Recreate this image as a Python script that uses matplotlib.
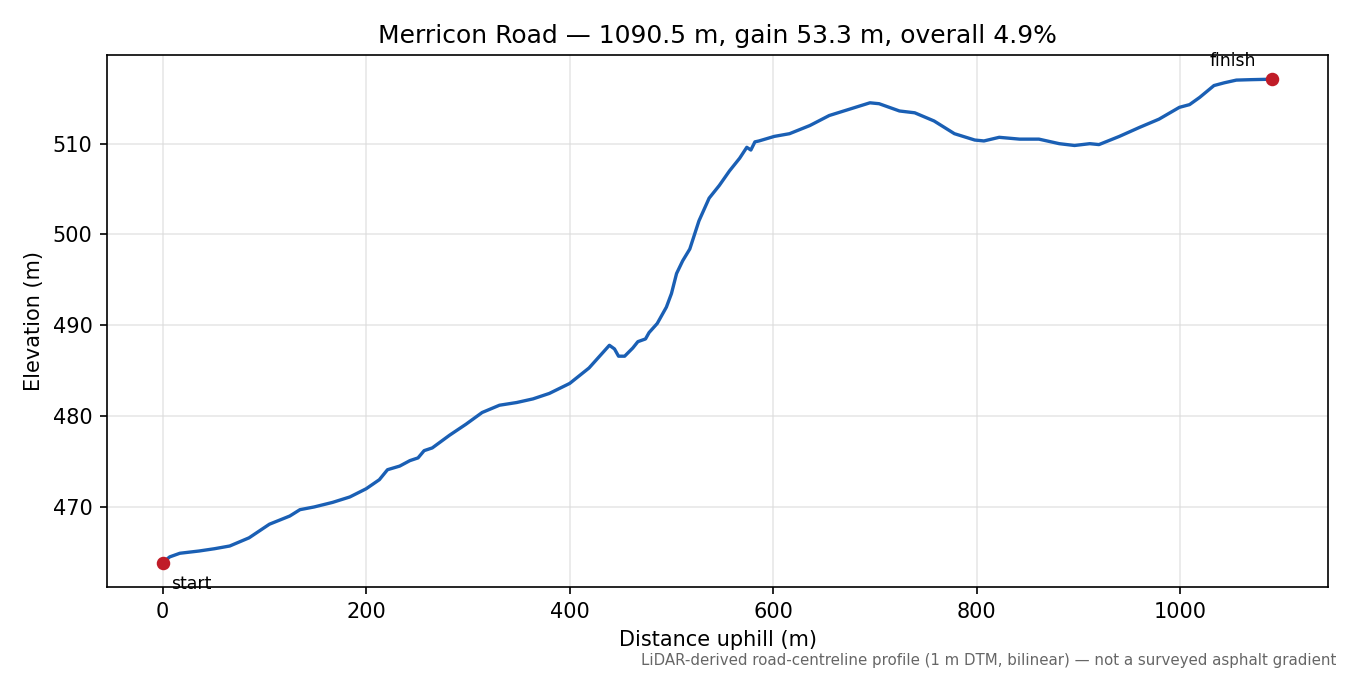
import matplotlib
matplotlib.use("Agg")
import matplotlib.pyplot as plt

# profile (distance uphill m, elevation m)
dist = [0, 7, 17, 36, 51, 66, 85, 105, 125, 135, 149, 167, 184, 200, 213, 221, 233, 243,
        251, 257, 265, 282, 298, 314, 331, 348, 364, 380, 400, 419, 439, 444, 448, 454,
        462, 467, 474.5, 478, 486, 495, 500, 505, 511, 518,
        527, 537, 547, 557, 567, 574, 578, 582, 586, 601, 616, 636, 655, 675, 695, 704,
        724, 739, 758, 778, 798, 807, 822, 842, 861, 881, 896, 911, 920, 940, 960, 979,
        999, 1009, 1019, 1033, 1043, 1055, 1070, 1090.5]
elev = [463.85, 464.5, 464.9, 465.15, 465.4, 465.7, 466.6, 468.1, 469.0, 469.7, 470.0, 470.5,
        471.1, 472.0, 473.0, 474.1, 474.5, 475.1, 475.4, 476.2, 476.5, 477.9, 479.1, 480.4,
        481.2, 481.5, 481.9, 482.5, 483.6, 485.3, 487.8, 487.4, 486.6, 486.6, 487.5, 488.2,
        488.5, 489.2, 490.2, 492.0, 493.5, 495.7, 497.1, 498.4,
        501.5, 504.0, 505.4, 507.0, 508.4, 509.6, 509.3, 510.2, 510.3, 510.8, 511.1, 512.0,
        513.1, 513.8, 514.5, 514.4, 513.6, 513.4, 512.5, 511.1, 510.4, 510.3, 510.7, 510.5,
        510.5, 510.0, 509.8, 510.0, 509.9, 510.8, 511.8, 512.7, 514.0, 514.3, 515.1, 516.4,
        516.7, 517.0, 517.05, 517.1]

title = "Merricon Road — 1090.5 m, gain 53.3 m, overall 4.9%"
note = "LiDAR-derived road-centreline profile (1 m DTM, bilinear) — not a surveyed asphalt gradient"

fig, ax = plt.subplots(figsize=(9, 4.5), dpi=150)
fig.subplots_adjust(left=0.0793, right=0.9837, top=0.9185, bottom=0.1304)

ax.plot(dist, elev, color="#1a5fb4", linewidth=1.6)
ax.scatter([dist[0], dist[-1]], [elev[0], elev[-1]], color="#c01c28", s=30, zorder=3)
ax.annotate("start", xy=(dist[0], elev[0]), xytext=(4, -10), textcoords="offset points",
            ha="left", va="center", fontsize=8.3)
ax.annotate("finish", xy=(dist[-1], elev[-1]), xytext=(-8, 8.5), textcoords="offset points",
            ha="right", va="center", fontsize=8.3)

ax.grid(True, color="#dddddd", alpha=0.7, linewidth=0.8)
ax.set_axisbelow(True)
ax.set_title(title, fontsize=12)
ax.set_xlabel("Distance uphill (m)")
ax.set_ylabel("Elevation (m)")
fig.text(0.9896, 0.022, note, ha="right", va="center", fontsize=7.2, color="#666666")

fig.savefig("out.png", dpi=150)
